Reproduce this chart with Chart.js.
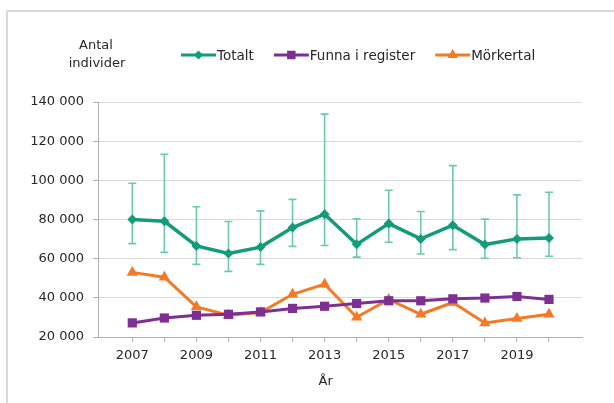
<!DOCTYPE html>
<html>
<head>
<meta charset="utf-8">
<script src="https://cdn.jsdelivr.net/npm/chart.js@4"></script>
<style>
  html, body { margin: 0; padding: 0; background: #fff; width: 614px; height: 403px; overflow: hidden; }
  #frame { position: absolute; left: 6px; top: 10px; width: 700px; height: 500px; border: 2px solid #d9d9d9; box-sizing: border-box; }
  #c { position: absolute; left: 0; top: 0; }
</style>
</head>
<body>
<div id="frame"></div>
<canvas id="c" width="614" height="403"></canvas>
<script>
const years = [2007, 2008, 2009, 2010, 2011, 2012, 2013, 2014, 2015, 2016, 2017, 2018, 2019, 2020];
const totalt = [80000, 79100, 66500, 62600, 65900, 75900, 82700, 67300, 77900, 70100, 77100, 67200, 70100, 70600];
const totaltLow = [67700, 63200, 57100, 53500, 57100, 66300, 66700, 60800, 68400, 62400, 64600, 60200, 60500, 61200];
const totaltHigh = [98500, 113300, 86500, 79000, 84400, 90300, 133800, 80300, 94900, 84100, 107500, 80200, 92600, 93900];
const funna = [27200, 29700, 31100, 31600, 32800, 34600, 35700, 37100, 38500, 38500, 39500, 39900, 40700, 39200];
const morkertal = [53000, 50500, 35400, 31100, 32500, 41800, 47000, 30100, 39200, 31600, 37600, 27200, 29400, 31600];
const seriesNames = ['Totalt', 'Funna i register', 'Mörkertal'];
const yTicks = [20000, 40000, 60000, 80000, 100000, 120000, 140000];
const yTitle = ['Antal', 'individer'];
const xTitle = 'År';

const GREEN = '#129c79', PURPLE = '#7d2f92', ORANGE = '#f37a26', ERR = '#6fc9ae';
const FONT = '"DejaVu Sans", Verdana, sans-serif';
const TEXT = '#262626';

function pts(arr) { return years.map((y, i) => ({ x: y, y: arr[i] })); }
function fmt(v) { return String(v).replace(/\B(?=(\d{3})+(?!\d))/g, ' '); }

function drawMarker(ctx, style, r, x, y, color) {
  ctx.save();
  ctx.fillStyle = color;
  ctx.beginPath();
  if (style === 'rectRot') {
    ctx.moveTo(x, y - r); ctx.lineTo(x + r, y); ctx.lineTo(x, y + r); ctx.lineTo(x - r, y);
  } else if (style === 'rect') {
    const s = r * Math.SQRT1_2;
    ctx.rect(x - s, y - s, 2 * s, 2 * s);
  } else {
    ctx.moveTo(x, y - r); ctx.lineTo(x + r * 0.866, y + r / 2); ctx.lineTo(x - r * 0.866, y + r / 2);
  }
  ctx.closePath();
  ctx.fill();
  ctx.restore();
}

const extras = {
  id: 'extras',
  beforeDatasetsDraw(chart) {
    const ctx = chart.ctx, xs = chart.scales.x, ys = chart.scales.y;
    ctx.save();
    ctx.strokeStyle = ERR;
    ctx.lineWidth = 1.6;
    years.forEach((yr, i) => {
      const px = xs.getPixelForValue(yr);
      const top = ys.getPixelForValue(totaltHigh[i]);
      const bot = ys.getPixelForValue(totaltLow[i]);
      ctx.beginPath();
      ctx.moveTo(px, top); ctx.lineTo(px, bot);
      ctx.moveTo(px - 4, top); ctx.lineTo(px + 4, top);
      ctx.moveTo(px - 4, bot); ctx.lineTo(px + 4, bot);
      ctx.stroke();
    });
    ctx.restore();
  },
  afterDraw(chart) {
    const ctx = chart.ctx;
    ctx.save();
    ctx.font = '13px ' + FONT;
    ctx.fillStyle = TEXT;
    ctx.textAlign = 'center';
    ctx.textBaseline = 'middle';
    ctx.fillText(yTitle[0], 96, 46);
    ctx.fillText(yTitle[1], 97, 64);
    ctx.fillText(xTitle, chart.scales.x.getPixelForValue(2013) + 1, 382);
    ctx.font = '13.5px ' + FONT;
    let x = 181;
    const y = 55;
    chart.data.datasets.forEach(ds => {
      ctx.save();
      ctx.strokeStyle = ds.borderColor;
      ctx.lineWidth = 3;
      ctx.beginPath(); ctx.moveTo(x, y); ctx.lineTo(x + 35, y); ctx.stroke();
      ctx.restore();
      drawMarker(ctx, ds.pointStyle, ds.pointRadius - 0.5, x + 17.5, y, ds.borderColor);
      ctx.textAlign = 'left';
      ctx.fillStyle = TEXT;
      ctx.fillText(ds.label, x + 36, y + 1);
      x += 36 + ctx.measureText(ds.label).width + 20;
    });
    ctx.restore();
  }
};

new Chart(document.getElementById('c'), {
  type: 'line',
  data: {
    datasets: [
      { label: seriesNames[0], data: pts(totalt), borderColor: GREEN, backgroundColor: GREEN, borderWidth: 3.5, pointStyle: 'rectRot', pointRadius: 5, pointBorderWidth: 0, tension: 0 },
      { label: seriesNames[1], data: pts(funna), borderColor: PURPLE, backgroundColor: PURPLE, borderWidth: 3, pointStyle: 'rect', pointRadius: 6.5, pointBorderWidth: 0, tension: 0 },
      { label: seriesNames[2], data: pts(morkertal), borderColor: ORANGE, backgroundColor: ORANGE, borderWidth: 3, pointStyle: 'triangle', pointRadius: 6.5, pointBorderWidth: 0, tension: 0 }
    ]
  },
  options: {
    responsive: false,
    animation: false,
    events: [],
    layout: { padding: { left: 0, right: 32, top: 102, bottom: 0 } },
    plugins: { legend: { display: false }, title: { display: false }, tooltip: { enabled: false } },
    scales: {
      x: {
        type: 'linear',
        min: 2005.93,
        max: 2021.03,
        afterBuildTicks(scale) { scale.ticks = years.map(v => ({ value: v })); },
        afterFit(scale) { scale.height = 66; },
        grid: { drawOnChartArea: false, drawTicks: true, tickLength: 5, tickColor: '#b0b0b0' },
        border: { color: '#b0b0b0', width: 1 },
        ticks: {
          autoSkip: false, maxRotation: 0, padding: 6,
          color: TEXT, font: { family: FONT, size: 13 },
          callback: v => (v % 2 === 1 ? String(v) : '')
        }
      },
      y: {
        min: 20000,
        max: 140000,
        afterBuildTicks(scale) { scale.ticks = yTicks.map(v => ({ value: v })); },
        afterFit(scale) { scale.width = 98; },
        grid: { color: '#d9d9d9', lineWidth: 1, drawTicks: true, tickLength: 5, tickColor: '#b0b0b0' },
        border: { color: '#b0b0b0', width: 1 },
        ticks: { padding: 9, color: TEXT, font: { family: FONT, size: 13 }, callback: v => fmt(v) }
      }
    }
  },
  plugins: [extras]
});
</script>
</body>
</html>
